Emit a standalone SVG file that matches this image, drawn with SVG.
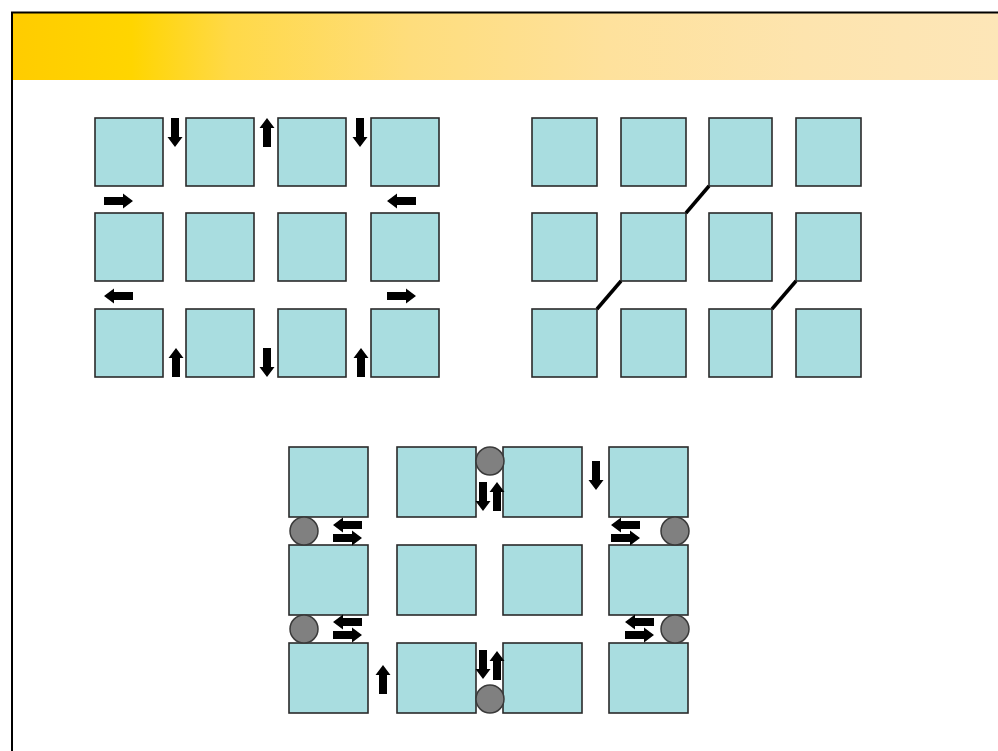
<svg xmlns="http://www.w3.org/2000/svg" xmlns:xlink="http://www.w3.org/1999/xlink" width="998" height="751" viewBox="0 0 998 751">
<style>
.b{fill:#a9dde0;stroke:#2a2a2a;stroke-width:1.6}
.c{fill:#808080;stroke:#3a3a3a;stroke-width:1.5}
.a{fill:#000}
.d{stroke:#000;stroke-width:3.5;fill:none}
</style>
<defs>
<linearGradient id="hdr" x1="0" y1="0" x2="1" y2="0">
<stop offset="0" stop-color="#ffcc00"/>
<stop offset="0.12" stop-color="#ffd500"/>
<stop offset="0.22" stop-color="#ffd948"/>
<stop offset="0.4" stop-color="#fedd7c"/>
<stop offset="0.6" stop-color="#fee19c"/>
<stop offset="0.8" stop-color="#fde4ae"/>
<stop offset="1" stop-color="#fde6b8"/>
</linearGradient>
<path id="ar" d="M-4,0H4V19H7.5L0,29L-7.5,19H-4Z"/>
</defs>
<rect x="0" y="0" width="998" height="751" fill="#fff"/>
<rect x="13" y="13" width="990" height="67" fill="url(#hdr)"/>
<path d="M12,751V12.5H998" stroke="#000" stroke-width="2" fill="none"/>

<g id="grid1">
<g id="g1r1c1"><rect class="b" x="95" y="118" width="68" height="68"/></g>
<g id="g1r1c2"><rect class="b" x="186" y="118" width="68" height="68"/></g>
<g id="g1r1c3"><rect class="b" x="278" y="118" width="68" height="68"/></g>
<g id="g1r1c4"><rect class="b" x="371" y="118" width="68" height="68"/></g>
<g id="g1r2c1"><rect class="b" x="95" y="213" width="68" height="68"/></g>
<g id="g1r2c2"><rect class="b" x="186" y="213" width="68" height="68"/></g>
<g id="g1r2c3"><rect class="b" x="278" y="213" width="68" height="68"/></g>
<g id="g1r2c4"><rect class="b" x="371" y="213" width="68" height="68"/></g>
<g id="g1r3c1"><rect class="b" x="95" y="309" width="68" height="68"/></g>
<g id="g1r3c2"><rect class="b" x="186" y="309" width="68" height="68"/></g>
<g id="g1r3c3"><rect class="b" x="278" y="309" width="68" height="68"/></g>
<g id="g1r3c4"><rect class="b" x="371" y="309" width="68" height="68"/></g>
</g>

<g id="grid2">
<g id="g2r1c1"><rect class="b" x="532" y="118" width="65" height="68"/></g>
<g id="g2r1c2"><rect class="b" x="621" y="118" width="65" height="68"/></g>
<g id="g2r1c3"><rect class="b" x="709" y="118" width="63" height="68"/></g>
<g id="g2r1c4"><rect class="b" x="796" y="118" width="65" height="68"/></g>
<g id="g2r2c1"><rect class="b" x="532" y="213" width="65" height="68"/></g>
<g id="g2r2c2"><rect class="b" x="621" y="213" width="65" height="68"/></g>
<g id="g2r2c3"><rect class="b" x="709" y="213" width="63" height="68"/></g>
<g id="g2r2c4"><rect class="b" x="796" y="213" width="65" height="68"/></g>
<g id="g2r3c1"><rect class="b" x="532" y="309" width="65" height="68"/></g>
<g id="g2r3c2"><rect class="b" x="621" y="309" width="65" height="68"/></g>
<g id="g2r3c3"><rect class="b" x="709" y="309" width="63" height="68"/></g>
<g id="g2r3c4"><rect class="b" x="796" y="309" width="65" height="68"/></g>
</g>

<g id="grid3">
<g id="g3r1c1"><rect class="b" x="289" y="447" width="79" height="70"/></g>
<g id="g3r1c2"><rect class="b" x="397" y="447" width="79" height="70"/></g>
<g id="g3r1c3"><rect class="b" x="503" y="447" width="79" height="70"/></g>
<g id="g3r1c4"><rect class="b" x="609" y="447" width="79" height="70"/></g>
<g id="g3r2c1"><rect class="b" x="289" y="545" width="79" height="70"/></g>
<g id="g3r2c2"><rect class="b" x="397" y="545" width="79" height="70"/></g>
<g id="g3r2c3"><rect class="b" x="503" y="545" width="79" height="70"/></g>
<g id="g3r2c4"><rect class="b" x="609" y="545" width="79" height="70"/></g>
<g id="g3r3c1"><rect class="b" x="289" y="643" width="79" height="70"/></g>
<g id="g3r3c2"><rect class="b" x="397" y="643" width="79" height="70"/></g>
<g id="g3r3c3"><rect class="b" x="503" y="643" width="79" height="70"/></g>
<g id="g3r3c4"><rect class="b" x="609" y="643" width="79" height="70"/></g>
<g id="circles">
<circle class="c" cx="304" cy="531" r="14"/>
<circle class="c" cx="490" cy="461" r="14"/>
<circle class="c" cx="675" cy="531" r="14"/>
<circle class="c" cx="304" cy="629" r="14"/>
<circle class="c" cx="675" cy="629" r="14"/>
<circle class="c" cx="490" cy="699" r="14"/>
</g>
</g>

<g id="connectors">
<g class="a">
<use xlink:href="#ar" transform="translate(175,118)"/>
<use xlink:href="#ar" transform="translate(267,147) rotate(180)"/>
<use xlink:href="#ar" transform="translate(360,118)"/>
<use xlink:href="#ar" transform="translate(104,201) rotate(-90)"/>
<use xlink:href="#ar" transform="translate(416,201) rotate(90)"/>
<use xlink:href="#ar" transform="translate(133,296) rotate(90)"/>
<use xlink:href="#ar" transform="translate(387,296) rotate(-90)"/>
<use xlink:href="#ar" transform="translate(176,377) rotate(180)"/>
<use xlink:href="#ar" transform="translate(267,348)"/>
<use xlink:href="#ar" transform="translate(361,377) rotate(180)"/>

<use xlink:href="#ar" transform="translate(362,525) rotate(90)"/>
<use xlink:href="#ar" transform="translate(333,538) rotate(-90)"/>
<use xlink:href="#ar" transform="translate(640,525) rotate(90)"/>
<use xlink:href="#ar" transform="translate(611,538) rotate(-90)"/>
<use xlink:href="#ar" transform="translate(362,622) rotate(90)"/>
<use xlink:href="#ar" transform="translate(333,635) rotate(-90)"/>
<use xlink:href="#ar" transform="translate(654,622) rotate(90)"/>
<use xlink:href="#ar" transform="translate(625,635) rotate(-90)"/>
<use xlink:href="#ar" transform="translate(483,482)"/>
<use xlink:href="#ar" transform="translate(497,511) rotate(180)"/>
<use xlink:href="#ar" transform="translate(483,650)"/>
<use xlink:href="#ar" transform="translate(497,680) rotate(180)"/>
<use xlink:href="#ar" transform="translate(383,694) rotate(180)"/>
<use xlink:href="#ar" transform="translate(596,461)"/>
</g>
<line class="d" x1="709" y1="186" x2="686" y2="213"/>
<line class="d" x1="621" y1="281" x2="597" y2="309"/>
<line class="d" x1="796" y1="281" x2="772" y2="309"/>
</g>
</svg>
